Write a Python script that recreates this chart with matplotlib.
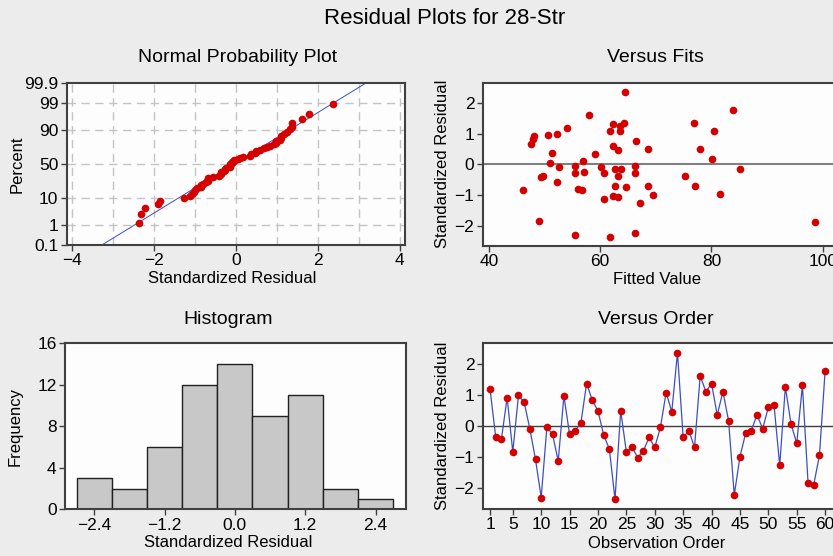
import numpy as np
import matplotlib
matplotlib.use('Agg')
import matplotlib.pyplot as plt
from statistics import NormalDist

# standardized residuals in observation order (read from "Versus Order")
resid = [1.18, -0.37, -0.42, 0.92, -0.84, 0.99, 0.77, -0.09, -1.08, -2.31,
         -0.04, -0.27, -1.13, 0.97, -0.27, -0.15, 0.11, 1.37, 0.83, 0.49,
         -0.29, -0.74, -2.37, 0.49, -0.84, -0.69, -1.02, -0.80, -0.37, -0.69,
         -0.04, 1.08, 0.46, 2.37, -0.37, -0.15, -0.69, 1.62, 1.11, 1.37,
         0.35, 1.11, 0.17, -2.23, -0.99, -0.24, -0.15, 0.37, -0.09, 0.60,
         0.68, -1.27, 1.26, 0.06, -0.56, 1.31, -1.85, -1.89, -0.95, 1.78]
# fitted values for the same observations (read from "Versus Fits")
fitted = [54.0, 63.3, 49.4, 48.2, 46.1, 52.3, 66.5, 52.6, 63.3, 55.5,
          55.5, 55.5, 60.7, 50.7, 66.2, 62.7, 56.9, 76.9, 47.9, 68.6,
          60.7, 64.7, 61.7, 77.9, 56.7, 62.7, 62.4, 56.1, 75.3, 77.1,
          66.2, 61.7, 63.3, 64.4, 49.8, 63.8, 68.6, 58.0, 80.4, 64.2,
          59.0, 63.5, 80.1, 66.2, 69.5, 57.1, 85.1, 51.3, 60.1, 62.4,
          47.5, 67.1, 63.5, 51.0, 52.3, 62.3, 49.1, 98.6, 81.5, 83.9]
obs = list(range(1, len(resid) + 1))

hist_edges = [-2.7, -2.1, -1.5, -0.9, -0.3, 0.3, 0.9, 1.5, 2.1, 2.7]
pct_ticks = [0.1, 1, 10, 50, 90, 99, 99.9]
order_ticks = [1, 5, 10, 15, 20, 25, 30, 35, 40, 45, 50, 55, 60]

RED = '#d40000'
BLUE = '#3c4fbf'
SPINE = '#404040'

plt.rcParams['font.family'] = ['Liberation Sans', 'DejaVu Sans']
plt.rcParams['font.size'] = 12

W, H = 833, 556
fig = plt.figure(figsize=(W / 100, H / 100), dpi=100, facecolor='#ececec')


def rect(l, t, r, b):
    return [l / W, 1 - b / H, (r - l) / W, (b - t) / H]


def style(ax):
    ax.set_facecolor('#fdfdfd')
    for s in ax.spines.values():
        s.set_color(SPINE)
        s.set_linewidth(1.5)
    ax.tick_params(direction='out', length=4, width=1, color=SPINE,
                   labelsize=12.5, pad=2)


# ---- Normal probability plot
ax1 = fig.add_axes(rect(66.7, 82.7, 405, 245))
style(ax1)
nd = NormalDist()
r_sorted = np.sort(resid)
n = len(r_sorted)
zq = [nd.inv_cdf((i - 0.3) / (n + 0.4)) for i in range(1, n + 1)]
zlim = nd.inv_cdf(0.999)
for xg in range(-4, 5):
    ax1.axvline(xg, color='#c4c4c4', lw=1, ls=(0, (6, 4)), zorder=0)
for p in pct_ticks[1:-1]:
    ax1.axhline(nd.inv_cdf(p / 100), color='#c4c4c4', lw=1, ls=(0, (6, 4)), zorder=0)
mu, sd = np.mean(resid), np.std(resid, ddof=1)
zl = np.array([-zlim - 0.2, zlim + 0.2])
ax1.plot(mu + sd * zl, zl, color=BLUE, lw=0.7, zorder=2)
ax1.plot(r_sorted, zq, 'o', color=RED, ms=5.5, mew=0, zorder=3)
ax1.set_xlim(-4.13, 4.13)
ax1.set_ylim(-zlim, zlim)
ax1.set_xticks([-4, -2, 0, 2, 4])
ax1.set_yticks([nd.inv_cdf(p / 100) for p in pct_ticks],
               labels=[str(p) for p in pct_ticks])
ax1.set_xlabel('Standardized Residual')
ax1.set_ylabel('Percent')
ax1.xaxis.set_label_coords(0.49, -0.16)
ax1.yaxis.set_label_coords(-0.125, 0.5)

# ---- Versus fits
ax2 = fig.add_axes(rect(482.7, 82.5, 845, 245.5))
style(ax2)
ax2.axhline(0, color='#808080', lw=1.5, zorder=1)
ax2.plot(fitted, resid, 'o', color=RED, ms=5.5, mew=0, zorder=3)
ax2.set_xlim(38.9, 104)
ax2.set_ylim(-2.65, 2.68)
ax2.set_xticks([40, 60, 80, 100])
ax2.set_yticks([-2, -1, 0, 1, 2])
ax2.set_xlabel('Fitted Value')
ax2.set_ylabel('Standardized Residual')
ax2.xaxis.set_label_coords(0.48, -0.16)
ax2.yaxis.set_label_coords(-0.09, 0.5)

# ---- Histogram
ax3 = fig.add_axes(rect(65, 343.3, 406, 509.3))
style(ax3)
ax3.hist(resid, bins=hist_edges, color='#c8c8c8', edgecolor='#202020', lw=1)
ax3.set_xlim(-2.9, 2.92)
ax3.set_ylim(0, 16)
ax3.set_xticks([-2.4, -1.2, 0.0, 1.2, 2.4])
ax3.set_yticks([0, 4, 8, 12, 16])
ax3.set_xlabel('Standardized Residual')
ax3.set_ylabel('Frequency')
ax3.xaxis.set_label_coords(0.48, -0.155)
ax3.yaxis.set_label_coords(-0.125, 0.5)

# ---- Versus order
ax4 = fig.add_axes(rect(482.7, 343.3, 845, 509))
style(ax4)
ax4.axhline(0, color='#404040', lw=1, zorder=1)
ax4.plot(obs, resid, '-', color=BLUE, lw=0.9, zorder=2)
ax4.plot(obs, resid, 'o', color=RED, ms=5.5, mew=0, zorder=3)
ax4.set_xlim(-0.3, 63.5)
ax4.set_ylim(-2.68, 2.67)
ax4.set_xticks(order_ticks)
ax4.set_yticks([-2, -1, 0, 1, 2])
ax4.set_xlabel('Observation Order')
ax4.set_ylabel('Standardized Residual')
ax4.xaxis.set_label_coords(0.48, -0.16)
ax4.yaxis.set_label_coords(-0.09, 0.5)

# titles centred on each panel
fig.text(445 / W, 1 - 18 / H, 'Residual Plots for 28-Str', ha='center', va='center', fontsize=16)
fig.text(238 / W, 1 - 58 / H, 'Normal Probability Plot', ha='center', va='center', fontsize=14)
fig.text(655 / W, 1 - 58 / H, 'Versus Fits', ha='center', va='center', fontsize=14)
fig.text(228 / W, 1 - 320 / H, 'Histogram', ha='center', va='center', fontsize=14)
fig.text(656 / W, 1 - 320 / H, 'Versus Order', ha='center', va='center', fontsize=14)

fig.savefig('out.png', dpi=100, facecolor=fig.get_facecolor())
